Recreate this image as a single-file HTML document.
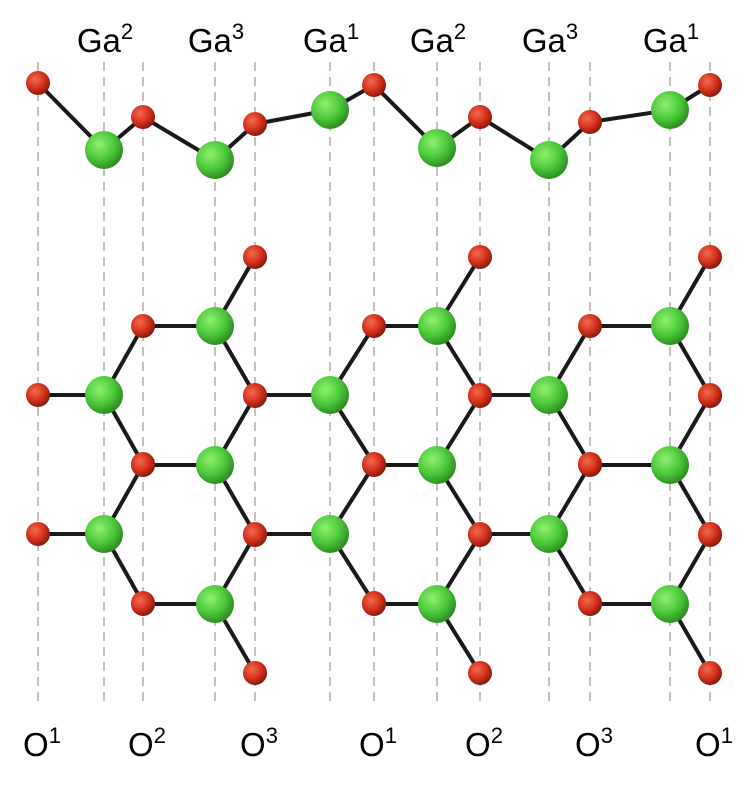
<!DOCTYPE html>
<html><head><meta charset="utf-8"><style>
html,body{margin:0;padding:0;background:#fff;}
svg{display:block;}
text{font-family:"Liberation Sans","DejaVu Sans",sans-serif;font-size:33px;fill:#000;}
</style></head><body>
<svg id="c" width="756" height="786" viewBox="0 0 756 786">
<defs>
<radialGradient id="gg" cx="38%" cy="35%" r="65%"><stop offset="0" stop-color="#8ef070"/><stop offset="0.6" stop-color="#4cc83a"/><stop offset="1" stop-color="#2e8f22"/></radialGradient>
<radialGradient id="rg" cx="38%" cy="35%" r="65%"><stop offset="0" stop-color="#f06a50"/><stop offset="0.6" stop-color="#d4301c"/><stop offset="1" stop-color="#8e1a0e"/></radialGradient>
</defs>
<g id="guides"></g><g id="bonds"></g><g id="atoms"></g><g id="labels"></g>
</svg>
<script>
const gaCols=[104,215,330,437,549,670];
const gaTop=["2","3","1","2","3","1"];
const oCols=[38,143,255,374,480,590,710];
const oBot=["1","2","3","1","2","3","1"];
const chain=[[38,83,"O"],[104,150,"G"],[143,117,"O"],[215,160,"G"],[255,124,"O"],[330,110,"G"],[374,85,"O"],[437,148,"G"],[480,117,"O"],[549,160,"G"],[590,122,"O"],[670,110,"G"],[710,85,"O"]];
const gaA=[[104,395],[104,534],[330,395],[330,534],[549,395],[549,534]];
const gaB=[[215,326],[215,465],[215,604],[437,326],[437,465],[437,604],[670,326],[670,465],[670,604]];
const oLeftA={104:38,330:255,549:480};
const oRightA={104:143,330:374,549:590};
const oLeftB={215:143,437:374,670:590};
const oRightB={215:255,437:480,670:710};
const dy=69;
const NS="http://www.w3.org/2000/svg";
function mk(t,a,p){const e=document.createElementNS(NS,t);for(const k in a)e.setAttribute(k,a[k]);document.getElementById(p).appendChild(e);return e;}
oCols.concat(gaCols).forEach(x=>{
 const l=mk("line",{x1:x,y1:62,x2:x,y2:702,stroke:"#c8c0c0","stroke-width":2,"stroke-dasharray":"9,6"},"guides");
 
 
});
const oSet=new Map();
function addO(x,y){oSet.set(x+","+y,[x,y]);}
function bond(x1,y1,x2,y2){const l=mk("line",{x1,y1,x2,y2,stroke:"#1a1a1a","stroke-width":4},"bonds");
 
 }
for(let i=0;i<chain.length-1;i++)bond(chain[i][0],chain[i][1],chain[i+1][0],chain[i+1][1]);
gaA.forEach(([x,y])=>{const L=oLeftA[x],R=oRightA[x];bond(x,y,L,y);bond(x,y,R,y-dy);bond(x,y,R,y+dy);addO(L,y);addO(R,y-dy);addO(R,y+dy);});
gaB.forEach(([x,y])=>{const L=oLeftB[x],R=oRightB[x];bond(x,y,L,y);bond(x,y,R,y-dy);bond(x,y,R,y+dy);addO(L,y);addO(R,y-dy);addO(R,y+dy);});
function atomO(x,y){const c=mk("circle",{cx:x,cy:y,r:12,fill:"url(#rg)"},"atoms");
 
 }
function atomG(x,y){const c=mk("circle",{cx:x,cy:y,r:19,fill:"url(#gg)"},"atoms");
 
 }
chain.forEach(([x,y,t])=>t==="O"?atomO(x,y):atomG(x,y));
oSet.forEach(([x,y])=>atomO(x,y));
gaA.concat(gaB).forEach(([x,y])=>atomG(x,y));
function label(x,y,base,sup,name){const t=mk("text",{x,y,"text-anchor":"middle"},"labels");
 
 
 t.appendChild(document.createTextNode(base));
 const s=document.createElementNS(NS,"tspan");s.setAttribute("font-size","22");s.setAttribute("dy","-13");s.textContent=sup;t.appendChild(s);}
gaCols.forEach((x,i)=>label(x+1,52,"Ga",gaTop[i],"ga-label"));
oCols.forEach((x,i)=>label(x+4,756,"O",oBot[i],"o-label"));
</script>
</body></html>
